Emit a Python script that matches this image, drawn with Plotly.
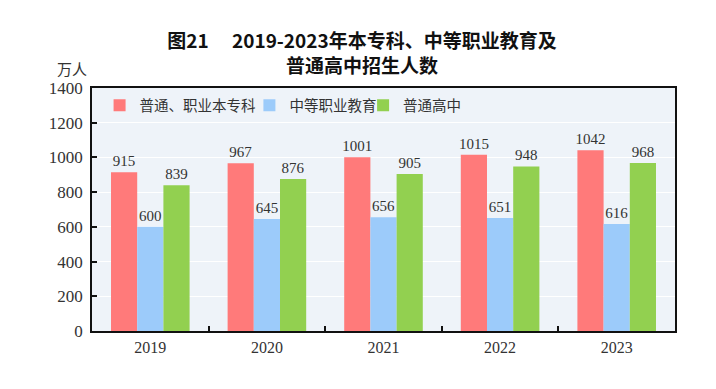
import plotly.graph_objects as go

years = ["2019", "2020", "2021", "2022", "2023"]
series_names = ["普通、职业本专科", "中等职业教育", "普通高中"]
higher_ed = [915, 967, 1001, 1015, 1042]
secondary_vocational = [600, 645, 656, 651, 616]
senior_high = [839, 876, 905, 948, 968]
colors = ["#ff7a7a", "#9ccbfa", "#92d050"]
y_ticks = [0, 200, 400, 600, 800, 1000, 1200, 1400]

values = [higher_ed, secondary_vocational, senior_high]
legend_ids = ["legend", "legend2", "legend3"]
legend_x = [0.013, 0.27, 0.465]

fig = go.Figure()
for name, vals, col, lid in zip(series_names, values, colors, legend_ids):
    fig.add_trace(go.Bar(
        x=years, y=vals, name=name, legend=lid,
        marker=dict(color=col, line=dict(width=0)),
        text=[str(v) for v in vals], textposition="outside",
        constraintext="none",
        textfont=dict(family="Liberation Serif", size=15, color="#333333"),
        cliponaxis=False,
    ))

legend_style = dict(orientation="h", y=0.995, xanchor="left", yanchor="top",
                    bgcolor="rgba(0,0,0,0)",
                    font=dict(family="Noto Sans CJK SC", size=14.5, color="#333333"))

fig.update_layout(
    width=708, height=381,
    margin=dict(l=84, r=41, t=80, b=58),
    paper_bgcolor="white", plot_bgcolor="#eef3f9",
    barmode="group", bargap=0.326, bargroupgap=0,
    showlegend=True,
    legend=dict(x=legend_x[0], **legend_style),
    legend2=dict(x=legend_x[1], **legend_style),
    legend3=dict(x=legend_x[2], **legend_style),
    title=dict(text="图21\u3000 2019-2023年本专科、中等职业教育及<br>普通高中招生人数",
               x=0.5, xanchor="center", y=0.895, yanchor="middle",
               font=dict(family="Noto Sans CJK SC", size=19, color="#111111", weight="bold")),
    xaxis=dict(type="category", tickson="boundaries", ticks="inside", ticklen=5,
               tickcolor="#111111", tickwidth=1.5,
               showline=True, linecolor="#111111", linewidth=1.5, mirror=True,
               showgrid=False, ticklabelstandoff=1,
               tickfont=dict(family="Liberation Serif", size=16, color="#333333")),
    yaxis=dict(range=[0, 1400], tickvals=y_ticks, ticks="inside", ticklen=5,
               tickcolor="#111111", tickwidth=1.5,
               showline=True, linecolor="#111111", linewidth=1.5, mirror=True,
               showgrid=True, gridcolor="#ffffff", gridwidth=1, zeroline=False,
               ticklabelstandoff=4,
               tickfont=dict(family="Liberation Serif", size=17, color="#333333")),
    annotations=[dict(text="万人", xref="paper", yref="paper", x=-0.035, y=1.08,
                      xanchor="center", yanchor="middle", showarrow=False,
                      font=dict(family="Noto Sans CJK SC", size=15, color="#333333"))],
)

fig.write_html("out.html")
